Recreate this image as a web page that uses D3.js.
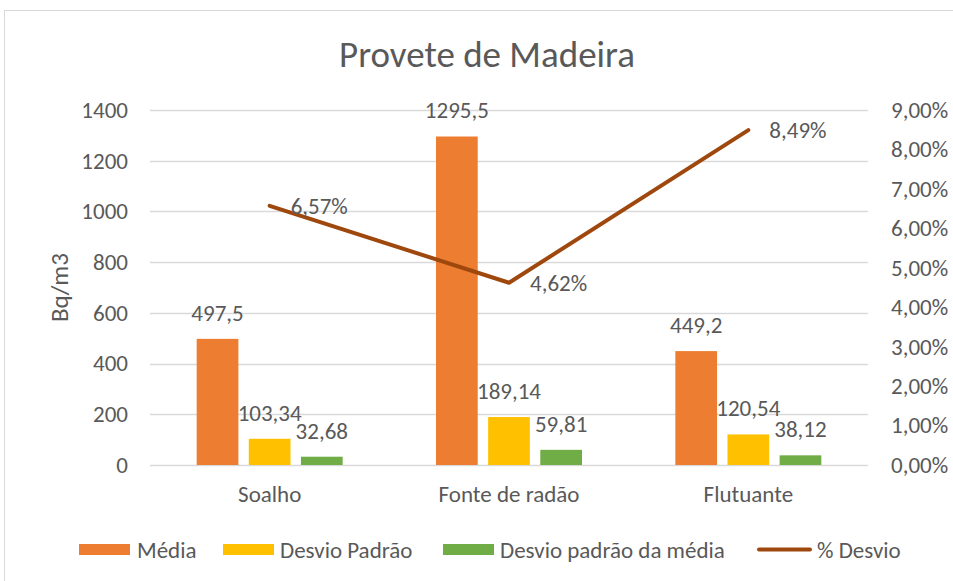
<!DOCTYPE html>
<html>
<head>
<meta charset="utf-8">
<script src="https://cdn.jsdelivr.net/npm/d3@7"></script>
<style>
  body { margin: 0; background: #fff; }
  text { font-family: Carlito, Lato, "Open Sans", sans-serif; fill: #595959; }
</style>
</head>
<body>
<div id="chart"></div>
<script>
const categories = ["Soalho", "Fonte de radão", "Flutuante"];
const series = ["Média", "Desvio Padrão", "Desvio padrão da média"];
const media = [497.5, 1295.5, 449.2];
const desvioPadrao = [103.34, 189.14, 120.54];
const desvioMedia = [32.68, 59.81, 38.12];
const pctDesvio = [0.0657, 0.0462, 0.0849];
const leftTicks = [0, 200, 400, 600, 800, 1000, 1200, 1400];
const rightTicks = [0, 0.01, 0.02, 0.03, 0.04, 0.05, 0.06, 0.07, 0.08, 0.09];

const colors = ["#ED7D31", "#FFC000", "#70AD47"];
const lineColor = "#9E480E";

const width = 953, height = 581;
const plot = {left: 150, right: 868, top: 110, bottom: 465};
const fs = 23;

const svg = d3.select("#chart")
  .append("svg")
    .attr("width", width)
    .attr("height", height);

// chart frame
svg.append("rect")
  .attr("x", 4.5).attr("y", 10.5)
  .attr("width", 980).attr("height", 620)
  .attr("fill", "none")
  .attr("stroke", "#d9d9d9");

svg.append("text")
  .attr("x", 487).attr("y", 67)
  .attr("text-anchor", "middle")
  .attr("font-size", 37)
  .text("Provete de Madeira");

const y = d3.scaleLinear().domain([0, 1400]).range([plot.bottom, plot.top]);
const y2 = d3.scaleLinear().domain([0, 0.09]).range([plot.bottom, plot.top]);
const x0 = d3.scaleBand().domain(categories).range([plot.left, plot.right]);
const bw = x0.bandwidth();
const x1 = d3.scaleBand().domain(series)
  .range([bw * 0.195, bw * 0.805])
  .paddingInner(0.2);

// gridlines
svg.append("g")
  .selectAll("line")
  .data(leftTicks)
  .enter()
  .append("line")
    .attr("x1", plot.left).attr("x2", plot.right)
    .attr("y1", d => Math.round(y(d)) + 0.5)
    .attr("y2", d => Math.round(y(d)) + 0.5)
    .attr("stroke", "#d9d9d9")
    .attr("stroke-width", 1.5);

const fmt = v => String(v).replace(".", ",");
const pct = v => d3.format(".2f")(v * 100).replace(".", ",") + "%";

const leftAxis = svg.append("g")
  .attr("transform", `translate(${plot.left - 19},0)`)
  .call(d3.axisLeft(y).tickValues(leftTicks).tickSize(0).tickFormat(d => d));
leftAxis.select(".domain").remove();
leftAxis.selectAll("text").attr("font-size", fs).attr("fill", "#595959");

const rightAxis = svg.append("g")
  .attr("transform", `translate(${plot.right + 20},0)`)
  .call(d3.axisRight(y2).tickValues(rightTicks).tickSize(0).tickFormat(pct));
rightAxis.select(".domain").remove();
rightAxis.selectAll("text").attr("font-size", fs).attr("fill", "#595959");

const bottomAxis = svg.append("g")
  .attr("transform", `translate(0,${plot.bottom + 18})`)
  .call(d3.axisBottom(x0).tickSize(0));
bottomAxis.select(".domain").remove();
bottomAxis.selectAll("text").attr("font-size", fs).attr("fill", "#595959");

svg.append("text")
  .attr("transform", `translate(68,${(plot.top + plot.bottom) / 2}) rotate(-90)`)
  .attr("text-anchor", "middle")
  .attr("font-size", 25)
  .text("Bq/m3");

// bars
const rows = categories.map((c, i) => ({
  cat: c,
  vals: [media[i], desvioPadrao[i], desvioMedia[i]]
}));

const groups = svg.append("g")
  .selectAll("g")
  .data(rows)
  .enter()
  .append("g")
    .attr("transform", d => `translate(${x0(d.cat)},0)`);

groups.selectAll("rect")
  .data(d => d.vals.map((v, j) => ({s: series[j], v: v, j: j})))
  .enter()
  .append("rect")
    .attr("x", d => x1(d.s))
    .attr("width", x1.bandwidth())
    .attr("y", d => y(d.v))
    .attr("height", d => y(0) - y(d.v))
    .attr("fill", d => colors[d.j]);

groups.selectAll("text.lbl")
  .data(d => d.vals.map((v, j) => ({s: series[j], v: v, j: j})))
  .enter()
  .append("text")
    .attr("class", "lbl")
    .attr("x", d => x1(d.s) + x1.bandwidth() / 2)
    .attr("y", d => y(d.v) - 18)
    .attr("text-anchor", "middle")
    .attr("font-size", fs)
    .text(d => fmt(d.v));

// line
const cx = c => x0(c) + bw / 2;
const line = d3.line()
  .x(d => cx(d.cat))
  .y(d => y2(d.p));
const lineData = categories.map((c, i) => ({cat: c, p: pctDesvio[i]}));

svg.append("path")
  .datum(lineData)
  .attr("d", line)
  .attr("fill", "none")
  .attr("stroke", lineColor)
  .attr("stroke-width", 4)
  .attr("stroke-linecap", "round")
  .attr("stroke-linejoin", "round");

svg.append("g")
  .selectAll("text")
  .data(lineData)
  .enter()
  .append("text")
    .attr("x", d => cx(d.cat) + 21)
    .attr("y", d => y2(d.p))
    .attr("dy", "0.35em")
    .attr("font-size", fs)
    .text(d => pct(d.p));

// legend
const legendItems = [
  {name: series[0], color: colors[0], type: "rect", x: 79, tx: 137},
  {name: series[1], color: colors[1], type: "rect", x: 223, tx: 280},
  {name: series[2], color: colors[2], type: "rect", x: 443, tx: 500},
  {name: "% Desvio", color: lineColor, type: "line", x: 757, tx: 817}
];
const legend = svg.append("g").attr("transform", "translate(0,549.5)");
legendItems.forEach(it => {
  if (it.type === "rect") {
    legend.append("rect")
      .attr("x", it.x).attr("y", -5.5)
      .attr("width", 51).attr("height", 11)
      .attr("fill", it.color);
  } else {
    legend.append("line")
      .attr("x1", it.x + 2).attr("x2", it.x + 53)
      .attr("y1", 0).attr("y2", 0)
      .attr("stroke", it.color)
      .attr("stroke-width", 4)
      .attr("stroke-linecap", "round");
  }
  legend.append("text")
    .attr("x", it.tx)
    .attr("y", 0)
    .attr("dy", "0.35em")
    .attr("font-size", fs)
    .text(it.name);
});
</script>
</body>
</html>
